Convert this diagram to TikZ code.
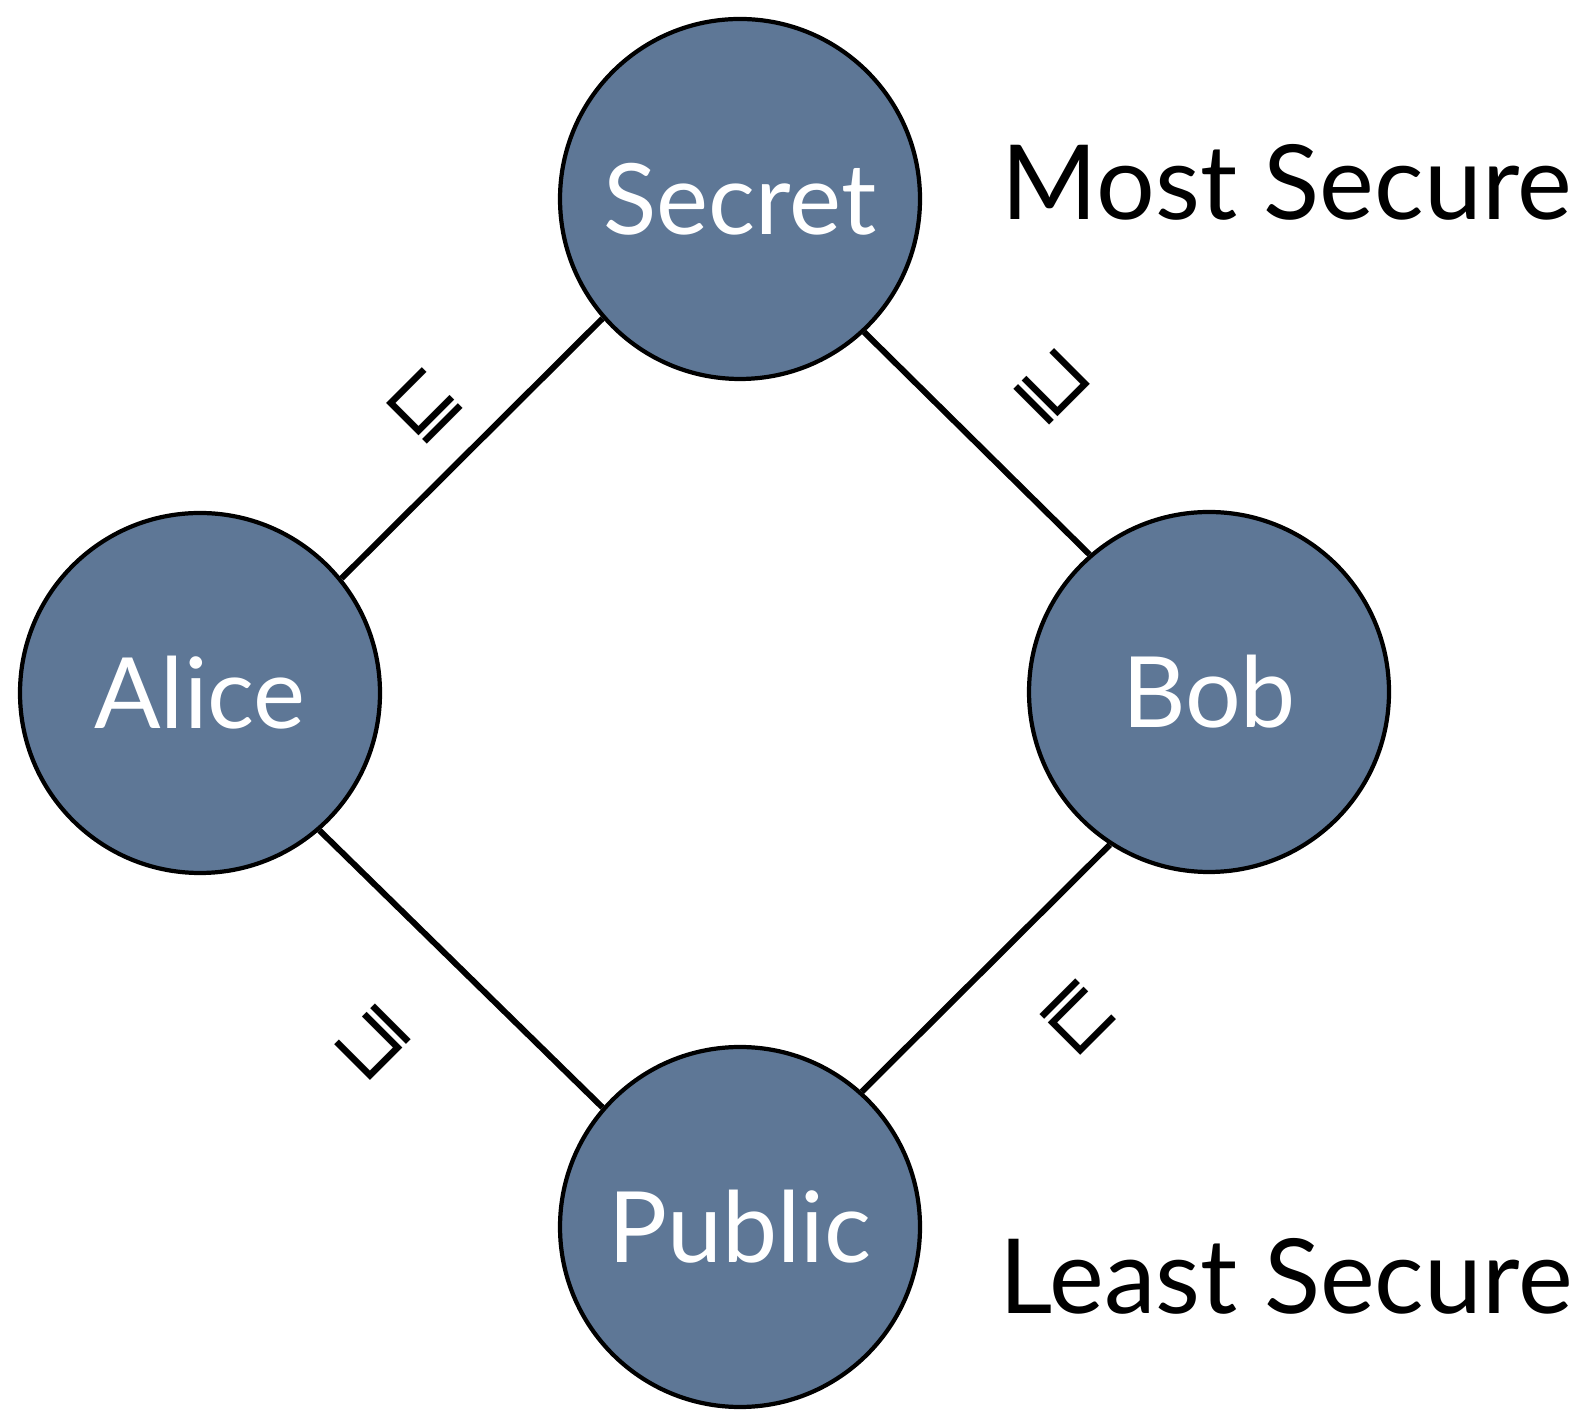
\documentclass[tikz,border=0pt]{standalone}
\usepackage{fontspec}
\setmainfont{Lato}
\newfontfamily\symfont{DejaVu Sans}
\definecolor{slate}{HTML}{5E7796}

\begin{document}
\begin{tikzpicture}[level/.style = {draw, line width=1.2pt, fill = slate, circle, minimum size=3.6cm, inner sep=0pt, text = white, font=\fontsize{28}{32}\selectfont},
		order/.style = {inner sep=0pt, font=\symfont\fontsize{23}{27}\selectfont},
		side/.style = {anchor=base west, inner sep=0pt, font=\fontsize{29.5}{34}\selectfont},
		link/.style = {line width=1.7pt}]
				\useasboundingbox (0,0) rectangle (15.77,14.09);
				\node[level] (S) at (7.40,12.10) {Secret};
				\node[level] (A) at (2.00,7.16) {Alice};
				\node[level] (B) at (12.09,7.17) {Bob};
				\node[level] (P) at (7.40,1.82) {Public};
				\node[side] (most) at (10.01,11.89) {Most Secure};
				\node[side] (least) at (9.99,0.96) {Least Secure};
				\draw[link] (A.39) -- (S.221);
				\draw[link] (S.313) -- (B.131);
				\draw[link] (A.311) -- (P.139);
				\draw[link] (B.237) -- (P.48);
				% order symbols along the edges
				\node[order, rotate=45] (as) at (4.25,10.03) {⊑};
				\node[order, rotate=-45] (sb) at (10.52,10.22) {⊒};
				\node[order, rotate=135] (pa) at (3.73,3.67) {⊑};
				\node[order, rotate=-135] (bp) at (10.78,3.92) {⊒};
			\end{tikzpicture}
\end{document}
